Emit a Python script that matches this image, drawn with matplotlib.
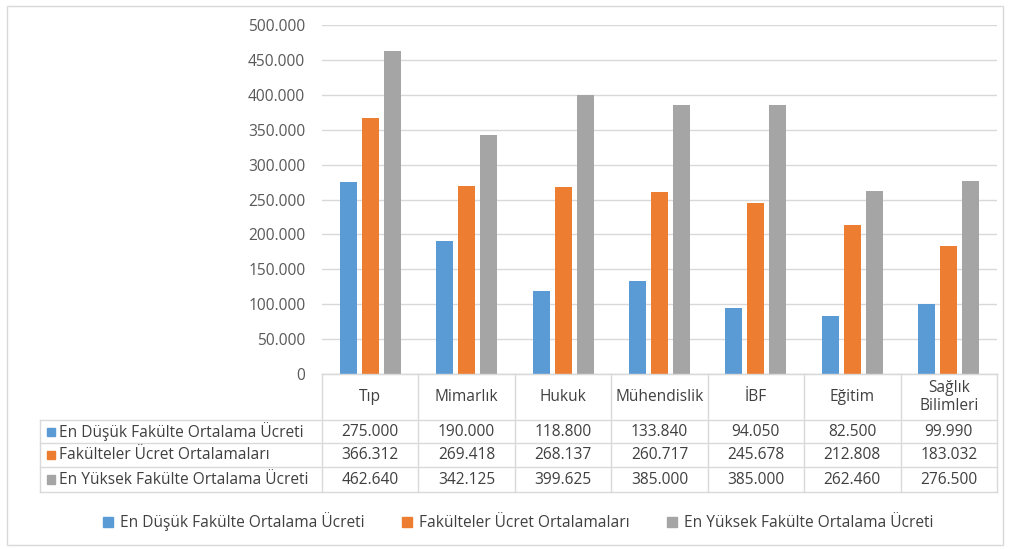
import numpy as np
import matplotlib.pyplot as plt
from matplotlib.patches import Rectangle
from matplotlib.lines import Line2D
from matplotlib.ticker import FuncFormatter

plt.rcParams['font.family'] = ['Open Sans', 'DejaVu Sans']

categories = ["Tıp", "Mimarlık", "Hukuk", "Mühendislik", "İBF", "Eğitim", "Sağlık\nBilimleri"]
series_names = ["En Düşük Fakülte Ortalama Ücreti",
                "Fakülteler Ücret Ortalamaları",
                "En Yüksek Fakülte Ortalama Ücreti"]
lowest = [275000, 190000, 118800, 133840, 94050, 82500, 99990]
average = [366312, 269418, 268137, 260717, 245678, 212808, 183032]
highest = [462640, 342125, 399625, 385000, 385000, 262460, 276500]
colors = ["#5B9BD5", "#ED7D31", "#A5A5A5"]

W, H = 1009, 549
fig = plt.figure(figsize=(W / 100, H / 100), dpi=100)
fs = 11.2

def fx(px):
    return px / W

def fy(py):
    return 1 - py / H

# plot area
left, right, top, bottom = 322, 997, 25, 374
ax = fig.add_axes([fx(left), fy(bottom), fx(right - left), fy(top) - fy(bottom)])

series = [lowest, average, highest]
x = np.arange(len(categories))
offsets = [-0.228, 0, 0.228]
for vals, off, c in zip(series, offsets, colors):
    ax.bar(x + off, vals, width=0.176, color=c, zorder=3)

ax.set_xlim(-0.5, len(categories) - 0.5)
ax.set_ylim(0, 500000)
ax.set_yticks(np.arange(0, 500001, 50000))
ax.yaxis.set_major_formatter(FuncFormatter(lambda v, p: "0" if v == 0 else f"{int(v):,}".replace(",", ".")))
ax.grid(axis="y", color="#D9D9D9", linewidth=1, zorder=0)
ax.set_xticks([])
ax.tick_params(axis="y", length=0, pad=12, labelsize=fs, labelcolor="#595959")
for s in ["top", "right", "left"]:
    ax.spines[s].set_visible(False)
ax.spines["bottom"].set_color("#D9D9D9")

# data table below the axes
line_col = "#D9D9D9"
txt_col = "#404040"
col_w = (right - left) / len(categories)
row_tops = [374, 420, 443, 467, 492]
label_left = 40

def hline(y, x0, x1):
    fig.add_artist(Line2D([fx(x0), fx(x1)], [fy(y), fy(y)], color=line_col, lw=1))

def vline(xp, y0, y1):
    fig.add_artist(Line2D([fx(xp), fx(xp)], [fy(y0), fy(y1)], color=line_col, lw=1))

hline(row_tops[0], left, right)
for y in row_tops[1:]:
    hline(y, label_left, right)
vline(label_left, row_tops[1], row_tops[-1])
for i in range(len(categories) + 1):
    vline(left + i * col_w, row_tops[0], row_tops[-1])

for i, cat in enumerate(categories):
    fig.text(fx(left + (i + 0.5) * col_w), fy((row_tops[0] + row_tops[1]) / 2), cat,
             ha="center", va="center", fontsize=fs, color=txt_col, linespacing=1.15)

for r, (name, vals, c) in enumerate(zip(series_names, series, colors)):
    yc = (row_tops[r + 1] + row_tops[r + 2]) / 2
    fig.add_artist(Rectangle((fx(47), fy(yc + 4)), fx(8), fy(yc - 4) - fy(yc + 4), color=c))
    fig.text(fx(59), fy(yc), name, ha="left", va="center", fontsize=fs, color=txt_col)
    for i, v in enumerate(vals):
        fig.text(fx(left + (i + 0.5) * col_w), fy(yc), f"{v:,}".replace(",", "."),
                 ha="center", va="center", fontsize=fs, color=txt_col)

# legend
handles = [Line2D([], [], marker="s", color=c, linestyle="none", markersize=7) for c in colors]
fig.legend(handles, series_names, loc="center", bbox_to_anchor=(fx(518), fy(522)), ncol=3,
           frameon=False, fontsize=fs, labelcolor=txt_col, handlelength=0.7,
           handletextpad=0.4, columnspacing=2.4)

# outer border
fig.add_artist(Rectangle((fx(7), fy(545)), fx(996), fy(6) - fy(545), fill=False,
                         edgecolor="#D9D9D9", lw=1))

fig.savefig("out.png", dpi=100)
